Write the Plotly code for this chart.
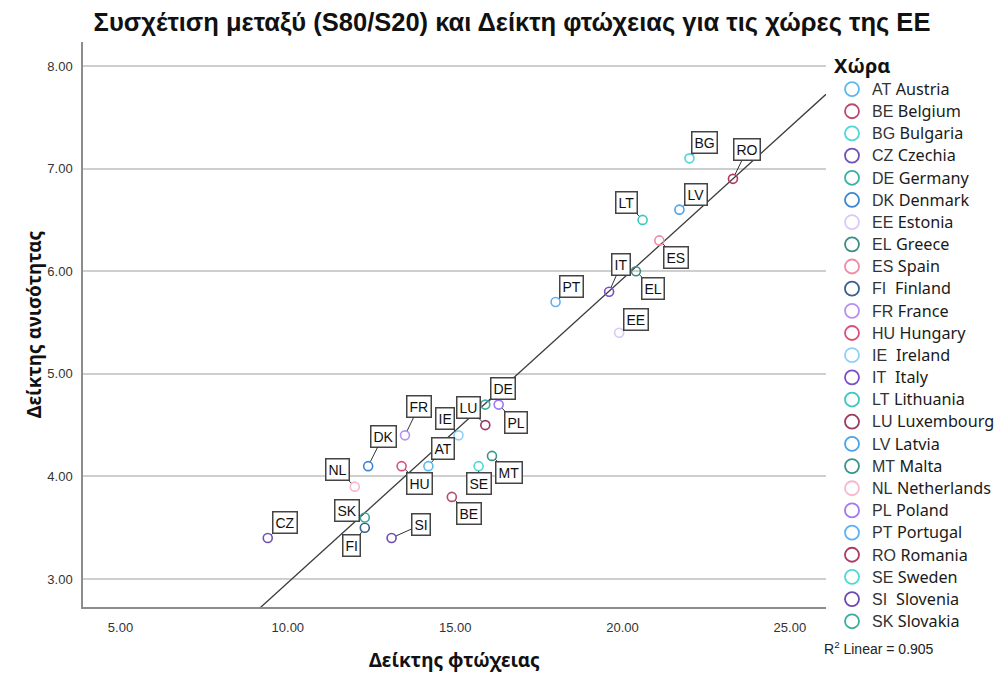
import numpy as np
import plotly.graph_objects as go

# ---------------- data ----------------
codes = ["AT", "BE", "BG", "CZ", "DE", "DK", "EE", "EL", "ES", "FI", "FR", "HU",
         "IE", "IT", "LT", "LU", "LV", "MT", "NL", "PL", "PT", "RO", "SE", "SI", "SK"]
countries = ["Austria", "Belgium", "Bulgaria", "Czechia", "Germany", "Denmark", "Estonia",
             "Greece", "Spain", "Finland", "France", "Hungary", "Ireland", "Italy",
             "Lithuania", "Luxembourg", "Latvia", "Malta", "Netherlands", "Poland",
             "Portugal", "Romania", "Sweden", "Slovenia", "Slovakia"]
poverty = [14.2, 14.9, 22.0, 9.4, 15.9, 12.4, 19.9, 20.4, 21.1, 12.3, 13.5, 13.4,
           15.1, 19.6, 20.6, 15.9, 21.7, 16.1, 12.0, 16.3, 18.0, 23.3, 15.7, 13.1, 12.3]
inequality = [4.1, 3.8, 7.1, 3.4, 4.7, 4.1, 5.4, 6.0, 6.3, 3.5, 4.4, 4.1,
              4.4, 5.8, 6.5, 4.5, 6.6, 4.2, 3.9, 4.7, 5.7, 6.9, 4.1, 3.4, 3.6]
r2_text = "0.905"
x_ticks = [5, 10, 15, 20, 25]
y_ticks = [3, 4, 5, 6, 7, 8]

# ---------------- styles ----------------
colors = ["#5BB8F0", "#B84A6E", "#4FD6D6", "#7050B8", "#3BB0A2", "#3A87D0", "#D9C8F8",
          "#3C8C84", "#F28AA6", "#3A6090", "#B890F4", "#D9507A", "#8FD0F8", "#7A4CC8",
          "#3CC8C0", "#9A3A62", "#4AA4EC", "#3A9488", "#F8B8CC", "#A078F4", "#5CB0F6",
          "#B03A60", "#50D8D4", "#7048B4", "#3AAA9C"]
# label box offsets (pixels, box centre relative to the point)
label_offsets = {
    "AT": (15, -18), "BE": (17, 17), "BG": (15, -16), "CZ": (17, -15), "DE": (18, -16),
    "DK": (15, -30), "EE": (17, -13), "EL": (17, 17), "ES": (17, 17), "FI": (-13, 18),
    "FR": (14, -29), "HU": (18, 17), "IE": (-14, -17), "IT": (12, -27), "LT": (-16, -17),
    "LU": (-17, -18), "LV": (17, -15), "MT": (17, 17), "NL": (-17, -17), "PL": (17, 18),
    "PT": (16, -15), "RO": (14, -29), "SE": (0, 17), "SI": (29, -13), "SK": (-18, -7),
}

arial_w = {"A": .667, "B": .667, "C": .722, "D": .722, "E": .667, "F": .611, "G": .778,
           "H": .722, "I": .278, "K": .667, "L": .556, "M": .833, "N": .722, "O": .778,
           "P": .667, "R": .722, "S": .667, "T": .611, "U": .722, "V": .667, "Z": .611}

fig = go.Figure()

# regression line
slope, intercept = np.polyfit(poverty, inequality, 1)
xr = np.array([3.88, 26.08])
fig.add_trace(go.Scatter(x=xr, y=slope * xr + intercept, mode="lines",
                         line=dict(color="#3a3a3a", width=1.3),
                         showlegend=False, hoverinfo="skip"))

code_size = 16
for c, name, xv, yv, col in zip(codes, countries, poverty, inequality, colors):
    fig.add_trace(go.Scatter(x=[xv], y=[yv], mode="markers", showlegend=False,
                             marker=dict(symbol="circle-open", size=9, color=col,
                                         line=dict(width=1.6, color=col)),
                             name=c))
    w = sum(arial_w[ch] for ch in c) * code_size
    pad = max(1, round((25 - w) / (0.278 * code_size)))
    label = (f"<span style='font-family:Arial, Liberation Sans;font-size:{code_size}px;"
             f"fill:#333'>{c}{chr(160) * pad}</span>"
             f"<span style='font-size:16.2px'>{name}</span>")
    fig.add_trace(go.Scatter(x=[None], y=[None], mode="markers", name=label,
                             marker=dict(symbol="circle-open", size=14, color=col,
                                         line=dict(width=1.8, color=col))))
    ax, ay = label_offsets[c]
    fig.add_annotation(x=xv, y=yv, xref="x", yref="y", text=c, showarrow=True,
                       ax=ax, ay=ay, arrowhead=0, arrowwidth=1, arrowcolor="#333",
                       standoff=5, bgcolor="white", bordercolor="#444", borderwidth=1.5,
                       borderpad=2, font=dict(family="Arial, Liberation Sans", size=14,
                                              color="#111"))

fig.add_annotation(x=0.9946, y=-0.0726, xref="paper", yref="paper", showarrow=False,
                   xanchor="left", yanchor="middle", text=f"R<sup>2</sup> Linear = {r2_text}",
                   font=dict(family="Arial, Liberation Sans", size=14, color="#222"))

fig.update_layout(
    width=997, height=673,
    margin=dict(l=83, r=171, t=42, b=66, autoexpand=False),
    paper_bgcolor="white", plot_bgcolor="white",
    title=dict(text="<b>Συσχέτιση μεταξύ (S80/S20) και Δείκτη φτώχειας για τις χώρες της ΕΕ</b>",
               x=512 / 997, xanchor="center", y=1 - 22 / 673, yanchor="middle",
               font=dict(family="Liberation Sans, Arial", size=25.5, color="#111")),
    xaxis=dict(range=[3.88, 26.08], tickvals=x_ticks, automargin=False,
               ticktext=[f"{v:.2f}" for v in x_ticks], showgrid=False, zeroline=False,
               showline=True, linecolor="#8c8c8c", linewidth=1.5, ticks="",
               ticklabelstandoff=8,
               tickfont=dict(family="Arial, Liberation Sans", size=13, color="#333"),
               title=dict(text="<b>Δείκτης φτώχειας</b>", standoff=22,
                          font=dict(family="Noto Sans", size=19, color="#111"))),
    yaxis=dict(range=[2.727, 8.234], tickvals=y_ticks, automargin=False,
               ticktext=[f"{v:.2f}" for v in y_ticks], showgrid=True, gridcolor="#cfcfcf",
               gridwidth=1.5, zeroline=False, showline=True, linecolor="#8c8c8c",
               linewidth=1.5, ticks="", ticklabelstandoff=6,
               tickfont=dict(family="Arial, Liberation Sans", size=13, color="#333"),
               title=dict(text="<b>Δείκτης ανισότητας</b>", standoff=0,
                          font=dict(family="Noto Sans", size=19, color="#111"))),
    legend=dict(xref="container", yref="container", x=832 / 997, y=1 - 47 / 673,
                xanchor="left", yanchor="top", maxheight=1,
                font=dict(family="Noto Sans", size=14.75, color="#1a1a1a"),
                title=dict(text="<b>Χώρα</b>", font=dict(family="Noto Sans", size=20,
                                                          color="#111")),
                bgcolor="rgba(0,0,0,0)", itemclick=False, itemdoubleclick=False),
)

fig.write_html("out.html", config={"displayModeBar": False},
               post_script="document.body.style.margin='0';")
